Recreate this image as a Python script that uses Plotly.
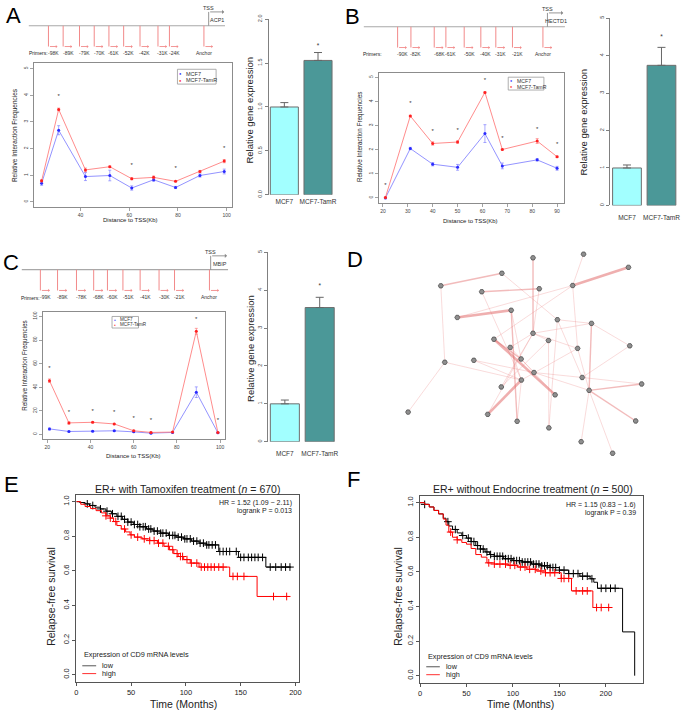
import plotly.graph_objects as go

W, H = 685, 712
FONT = "Arial, 'Liberation Sans', Helvetica, sans-serif"

# ======================= DATA =======================
# ---- Panel A (ACP1) ----
A_dist = [24, 31, 42, 52, 61, 70, 79, 89, 99]
A_mcf7 = [0.70, 2.69, 0.95, 0.99, 0.52, 0.83, 0.54, 0.99, 1.14]
A_mcf7_err = [0.08, 0.17, 0.15, 0.20, 0.08, 0.06, 0.04, 0.06, 0.09]
A_tamr = [0.79, 3.47, 1.20, 1.32, 0.87, 0.92, 0.77, 1.14, 1.53]
A_tamr_err = [0.04, 0.05, 0.07, 0.03, 0.04, 0.05, 0.02, 0.04, 0.06]
A_star_x = [31, 61, 79, 99]
A_star_y = [3.95, 1.35, 1.26, 2.00]
A_primer_lab = ["-98K", "-89K", "-79K", "-70K", "-61K", "-52K", "-42K", "-31K", "-24K", "Anchor"]
A_primer_pos = [-98, -89, -79, -70, -61, -52, -42, -31, -24, -2.9]
A_gene = "ACP1"
A_bar = [1.00, 1.53]
A_bar_err = [0.05, 0.09]
A_bar_star = 1.69

# ---- Panel B (HECTD1) ----
B_dist = [21, 31, 40, 50, 61, 68, 82, 90]
B_mcf7 = [0.00, 2.05, 1.40, 1.27, 2.67, 1.33, 1.58, 1.23]
B_mcf7_err = [0.02, 0.05, 0.07, 0.12, 0.37, 0.12, 0.05, 0.08]
B_tamr = [0.02, 3.40, 2.26, 2.32, 4.38, 2.01, 2.36, 1.71]
B_tamr_err = [0.02, 0.03, 0.07, 0.05, 0.03, 0.03, 0.10, 0.03]
B_star_x = [21, 31, 40, 50, 61, 68, 82, 90]
B_star_y = [0.52, 3.90, 2.74, 2.81, 4.89, 2.47, 2.85, 2.22]
B_primer_lab = ["-90K", "-82K", "-68K", "-61K", "-50K", "-40K", "-31K", "-21K", "Anchor"]
B_primer_pos = [-90, -82, -68, -61, -50, -40, -31, -21, -2.7]
B_gene = "HECTD1"
B_bar = [1.00, 3.74]
B_bar_err = [0.08, 0.48]
B_bar_star = 4.49

# ---- Panel C (MBIP) ----
C_dist = [21, 30, 41, 51, 60, 68, 78, 89, 99]
C_mcf7 = [4.7, 2.5, 2.8, 3.1, 2.2, 1.1, 1.7, 35.8, 1.4]
C_mcf7_err = [0.8, 0.4, 0.4, 0.4, 0.3, 0.3, 0.3, 4.5, 0.3]
C_tamr = [45.5, 9.8, 10.3, 8.9, 3.1, 1.7, 2.0, 87.4, 1.7]
C_tamr_err = [1.5, 1.0, 0.6, 0.5, 0.5, 0.4, 0.4, 2.5, 0.4]
C_star_x = [21, 30, 41, 51, 60, 68, 89, 99]
C_star_y = [55.9, 19.0, 19.8, 18.4, 13.4, 12.0, 97.2, 12.0]
C_primer_lab = ["-99K", "-89K", "-78K", "-68K", "-60K", "-51K", "-41K", "-30K", "-21K", "Anchor"]
C_primer_pos = [-99, -89, -78, -68, -60, -51, -41, -30, -21, -0.7]
C_gene = "MBIP"
C_bar = [1.00, 3.54]
C_bar_err = [0.10, 0.27]
C_bar_star = 4.09

bar_cats = ["MCF7", "MCF7-TamR"]
series_names = ["MCF7", "MCF7-TamR"]

# ---- Panel D (network layout) ----
D_node_x = [195.7, 246.7, 292.0, 164.3, 102.7, 144.0, 202.0, 235.7, 173.7, 119.3, 220.3, 254.7,
            195.7, 156.3, 211.3, 172.7, 240.7, 293.3, 183.7, 136.0, 106.7, 196.7, 245.3, 184.0,
            163.7, 305.3, 252.3, 218.0, 69.7, 150.0, 179.7, 299.3, 211.7, 244.3, 276.0]
D_node_y = [25.7, 22.0, 35.3, 41.3, 54.0, 60.0, 57.0, 53.7, 78.7, 86.0, 88.3, 92.0,
            102.0, 108.0, 109.3, 116.3, 117.3, 114.7, 128.0, 129.3, 131.3, 141.7, 146.7, 149.3,
            156.3, 153.3, 159.7, 164.3, 181.7, 184.0, 191.0, 190.7, 197.7, 211.7, 223.3]
D_edges_strong = [(9, 8), (2, 7), (13, 27), (23, 29)]
D_edges_mid = [(4, 3), (0, 12), (8, 30), (11, 26), (25, 26), (13, 18), (26, 31), (5, 6)]
D_edges_weak = [(4, 20), (20, 28), (1, 7), (7, 16), (7, 13), (7, 9), (8, 18), (11, 10), (11, 12),
                (11, 17), (17, 22), (26, 33), (26, 34), (19, 23), (19, 21), (23, 30), (12, 24),
                (12, 29), (14, 32), (14, 24), (16, 23), (10, 32), (10, 22), (3, 10), (5, 23),
                (15, 23), (15, 21), (21, 26), (21, 22), (22, 25), (20, 23), (12, 15), (12, 14),
                (12, 16), (18, 27), (6, 12), (16, 26)]

# ---- Panel E (Tamoxifen) ----
E_low_t = [0, 3, 8, 12, 17, 22, 27, 32, 37, 42, 47, 52, 58, 64, 70, 77, 84, 91, 98, 105, 112, 119, 130, 148, 173, 196]
E_low_s = [1.0, 0.995, 0.987, 0.978, 0.968, 0.958, 0.945, 0.930, 0.915, 0.898, 0.882, 0.868, 0.855,
           0.842, 0.830, 0.818, 0.805, 0.795, 0.785, 0.772, 0.760, 0.750, 0.712, 0.678, 0.622, 0.622]
E_low_cens = [10, 15, 22, 28, 33, 38, 41, 44, 47, 50, 53, 56, 58, 61, 63, 66, 68, 71, 74, 77, 79, 82,
              85, 88, 90, 93, 96, 99, 101, 104, 107, 110, 113, 116, 119, 121, 124, 127, 131, 134, 137,
              140, 146, 150, 153, 157, 160, 163, 166, 170, 177, 182, 187, 191, 195]
E_high_t = [0, 4, 8, 13, 18, 23, 27, 31, 34, 37, 41, 45, 49, 53, 60, 67, 74, 80, 85, 89, 93, 98, 104, 112, 140, 165, 194]
E_high_s = [1.0, 0.985, 0.972, 0.960, 0.948, 0.935, 0.918, 0.905, 0.885, 0.862, 0.842, 0.825, 0.808,
            0.795, 0.785, 0.775, 0.760, 0.742, 0.722, 0.700, 0.683, 0.665, 0.645, 0.622, 0.568, 0.452, 0.452]
E_high_cens = [27, 31, 36, 44, 50, 56, 62, 67, 71, 75, 79, 84, 88, 92, 95, 97, 101, 105, 110, 114, 117,
               120, 123, 126, 130, 134, 143, 147, 153, 180, 192]
E_title = "ER+ with Tamoxifen treatment (<i>n</i> = 670)"
E_hr = "HR = 1.52 (1.09 \u2212 2.11)"
E_p = "logrank P = 0.013"

# ---- Panel F (no endocrine) ----
F_low_t = [0, 5, 10, 15, 20, 25, 28, 31, 35, 40, 45, 50, 55, 60, 65, 70, 75, 80, 90, 100, 110, 120,
           130, 140, 150, 160, 172, 183, 187, 191, 218, 231]
F_low_s = [1.0, 0.99, 0.975, 0.955, 0.935, 0.91, 0.89, 0.865, 0.845, 0.825, 0.81, 0.795, 0.775, 0.752,
           0.732, 0.715, 0.700, 0.690, 0.676, 0.665, 0.657, 0.645, 0.635, 0.625, 0.610, 0.590, 0.575,
           0.560, 0.540, 0.505, 0.253, 0.0]
F_low_cens = [5, 30, 38, 46, 52, 55, 58, 62, 65, 68, 72, 76, 80, 83, 86, 89, 92, 95, 98, 101, 104, 107,
              110, 113, 116, 119, 122, 125, 128, 131, 134, 137, 140, 143, 146, 150, 155, 160, 165, 170,
              175, 180, 185, 195, 200, 205, 210]
F_high_t = [0, 5, 10, 15, 20, 25, 28, 31, 35, 40, 45, 50, 55, 60, 66, 72, 80, 95, 105, 115, 125, 135,
            152, 163, 186, 204]
F_high_s = [1.0, 0.99, 0.975, 0.955, 0.935, 0.905, 0.87, 0.83, 0.80, 0.785, 0.77, 0.76, 0.735, 0.70,
            0.685, 0.652, 0.645, 0.638, 0.628, 0.615, 0.605, 0.595, 0.562, 0.490, 0.394, 0.394]
F_high_cens = [33, 40, 74, 80, 86, 92, 97, 102, 108, 113, 118, 124, 130, 135, 140, 145, 152, 155, 160,
               168, 175, 180, 190, 195, 203]
F_title = "ER+ without Endocrine treatment (<i>n</i> = 500)"
F_hr = "HR = 1.15 (0.83 \u2212 1.6)"
F_p = "logrank P = 0.39"

km_legend_title = "Expression of CD9 mRNA levels"
km_groups = ["low", "high"]
surv_ticks = [0, 0.2, 0.4, 0.6, 0.8, 1.0]
time_ticks = [0, 50, 100, 150, 200]

# ======================= HELPERS =======================
fig = go.Figure()
layout = dict(width=W, height=H, autosize=False, margin=dict(l=0, r=0, t=0, b=0, pad=0),
              paper_bgcolor="white", plot_bgcolor="white", showlegend=False,
              font=dict(family=FONT, color="#222"))
annotations = []
shapes = []


def ids(n):
    return ("x" if n == 1 else f"x{n}", "y" if n == 1 else f"y{n}",
            "xaxis" if n == 1 else f"xaxis{n}", "yaxis" if n == 1 else f"yaxis{n}")


def xdom(a, b):
    return [a / W, b / W]


def ydom(top, bottom):
    return [1 - bottom / H, 1 - top / H]


def note(x, y, text, size, color="#222", xanchor="center", yanchor="middle", **kw):
    d = dict(x=x / W, y=1 - y / H, xref="paper", yref="paper", text=text, showarrow=False,
             font=dict(size=size, family=FONT, color=color), xanchor=xanchor, yanchor=yanchor)
    d.update(kw)
    annotations.append(d)


BLUE_LINE = "rgba(120,120,255,0.8)"
BLUE_PT = "#2a2aff"
RED_LINE = "rgba(255,120,120,0.85)"
RED_PT = "#ff2020"


def line_panel(n, xd, yd, xr, yr, xticks, yticks, dist, m, me, t, te, sx, sy):
    xa, ya, xk, yk = ids(n)
    common = dict(showline=True, mirror=True, linecolor="#8c8c8c", linewidth=1, ticks="outside",
                  ticklen=3, tickwidth=0.8, tickcolor="#8c8c8c", tickfont=dict(size=5, color="#444"),
                  showgrid=False, zeroline=False, fixedrange=True)
    layout[xk] = dict(domain=xdom(*xd), range=xr, anchor=ya, tickvals=xticks, **common)
    layout[yk] = dict(domain=ydom(*yd), range=yr, anchor=xa, tickvals=yticks, tickangle=-90, **common)
    fig.add_trace(go.Scatter(x=dist, y=m, xaxis=xa, yaxis=ya, mode="lines+markers", name=series_names[0],
                             line=dict(color=BLUE_LINE, width=1), marker=dict(color=BLUE_PT, size=3),
                             error_y=dict(type="data", array=me, color=BLUE_LINE, thickness=0.8, width=1.5)))
    fig.add_trace(go.Scatter(x=dist, y=t, xaxis=xa, yaxis=ya, mode="lines+markers", name=series_names[1],
                             line=dict(color=RED_LINE, width=1), marker=dict(color=RED_PT, size=3),
                             error_y=dict(type="data", array=te, color=RED_LINE, thickness=0.8, width=1.5)))
    fig.add_trace(go.Scatter(x=sx, y=sy, xaxis=xa, yaxis=ya, mode="text", text=["*"] * len(sx),
                             textfont=dict(size=6, color="#333"), cliponaxis=False))


def line_legend(box, rows, dot_x, text_x, size):
    x0, y0, x1, y1 = box
    shapes.append(dict(type="rect", xref="paper", yref="paper", x0=x0 / W, x1=x1 / W,
                       y0=1 - y1 / H, y1=1 - y0 / H, line=dict(color="#999", width=0.8)))
    for (yy, col, lab) in zip(rows, [BLUE_PT, RED_PT], series_names):
        note(dot_x, yy, "\u25cf", size - 1.5, color=col)
        note(text_x, yy, lab, size, color="#333", xanchor="left")


def bar_panel(n, xd, yd, xr, yr, yticks, yticktext, vals, errs, star, standoff):
    xa, ya, xk, yk = ids(n)
    layout[xk] = dict(domain=xdom(*xd), range=xr, anchor=ya, showline=False, ticks="",
                      tickvals=[0.7, 1.9], ticktext=bar_cats, tickfont=dict(size=6.5, color="#333"),
                      showgrid=False, zeroline=False, fixedrange=True, ticklabelstandoff=standoff)
    layout[yk] = dict(domain=ydom(*yd), range=yr, anchor=xa, showline=True, linecolor="#808080",
                      linewidth=1, ticks="outside", ticklen=3, tickcolor="#808080", tickvals=yticks,
                      ticktext=yticktext, tickangle=-90, tickfont=dict(size=5.5, color="#444"),
                      showgrid=False, zeroline=False, fixedrange=True)
    fig.add_trace(go.Bar(x=[0.7, 1.9], y=vals, width=[1, 1], xaxis=xa, yaxis=ya,
                         marker=dict(color=["#a2ffff", "#4b9898"], line=dict(color="#6e6e6e", width=1)),
                         error_y=dict(type="data", symmetric=False, array=errs, arrayminus=[0, 0],
                                      color="#666", thickness=1, width=4)))
    fig.add_trace(go.Scatter(x=[1.9], y=[star], xaxis=xa, yaxis=ya, mode="text", text=["*"],
                             textfont=dict(size=6.5, color="#333"), cliponaxis=False))


TSS_H, TSS_TXT, GENE_TXT, PRIMER_D, LABEL_Y = 1.0, 1.29, 0.43, -1.5, -1.96
PRIMER_COL = "#f28a8a"


def gene_panel(n, xd, main_y, xr, line_ext, pos, labs, gene):
    xa, ya, xk, yk = ids(n)
    layout[xk] = dict(domain=xdom(*xd), range=xr, anchor=ya, visible=False, fixedrange=True)
    layout[yk] = dict(domain=ydom(main_y - 21, main_y + 33.6), range=[-2.4, 1.5], anchor=xa,
                      visible=False, fixedrange=True)
    fig.add_trace(go.Scatter(x=line_ext, y=[0, 0], xaxis=xa, yaxis=ya, mode="lines",
                             line=dict(color="#a8a8a8", width=1.2), cliponaxis=False))
    vx, vy = [], []
    for p in pos:
        vx += [p, p, None]
        vy += [0, PRIMER_D, None]
    fig.add_trace(go.Scatter(x=vx, y=vy, xaxis=xa, yaxis=ya, mode="lines",
                             line=dict(color=PRIMER_COL, width=1), cliponaxis=False))
    for p, lab in zip(pos, labs):
        annotations.append(dict(x=p + 5.5, y=PRIMER_D, ax=p, ay=PRIMER_D, xref=xa, yref=ya,
                                axref=xa, ayref=ya, text="", showarrow=True, arrowhead=1,
                                arrowsize=0.6, arrowwidth=0.9, arrowcolor=PRIMER_COL, standoff=0))
        off = 0 if lab == "Anchor" else 3
        annotations.append(dict(x=p + off, y=LABEL_Y, xref=xa, yref=ya, text=lab, showarrow=False,
                                font=dict(size=5, family=FONT, color="#333")))
    # TSS arrow
    fig.add_trace(go.Scatter(x=[0, 0], y=[0, TSS_H], xaxis=xa, yaxis=ya, mode="lines",
                             line=dict(color="#8a8a8a", width=0.9), cliponaxis=False))
    annotations.append(dict(x=9.5, y=TSS_H, ax=0, ay=TSS_H, xref=xa, yref=ya, axref=xa, ayref=ya,
                            text="", showarrow=True, arrowhead=1, arrowsize=0.8, arrowwidth=0.9,
                            arrowcolor="#8a8a8a", standoff=0))
    annotations.append(dict(x=0, y=TSS_TXT, xref=xa, yref=ya, text="TSS", showarrow=False,
                            font=dict(size=5.5, family=FONT, color="#333")))
    annotations.append(dict(x=5.3, y=GENE_TXT, xref=xa, yref=ya, text=gene, showarrow=False,
                            font=dict(size=5.5, family=FONT, color="#333")))


def surv_at(times, surv, t):
    s = surv[0]
    for ti, si in zip(times, surv):
        if ti <= t:
            s = si
        else:
            break
    return s


def km_panel(n, xd, yd, xr, curves):
    xa, ya, xk, yk = ids(n)
    common = dict(showline=True, mirror=True, linecolor="#555", linewidth=1, ticks="outside",
                  ticklen=3, tickwidth=1, tickcolor="#555", tickfont=dict(size=7.5, color="#222"),
                  showgrid=False, zeroline=False, fixedrange=True)
    layout[xk] = dict(domain=xdom(*xd), range=xr, anchor=ya, tickvals=time_ticks,
                      ticklabelstandoff=0, **common)
    layout[yk] = dict(domain=ydom(*yd), range=[-0.04, 1.04], anchor=xa, tickvals=surv_ticks,
                      ticktext=[f"{v:.1f}" for v in surv_ticks], tickangle=-90, **common)
    for times, surv, cens, col in curves:
        fig.add_trace(go.Scatter(x=times, y=surv, xaxis=xa, yaxis=ya, mode="lines",
                                 line=dict(shape="hv", color=col, width=1)))
        cy = [surv_at(times, surv, c) for c in cens]
        fig.add_trace(go.Scatter(x=cens, y=cy, xaxis=xa, yaxis=ya, mode="markers",
                                 marker=dict(symbol="cross-thin", size=5.5, color=col,
                                             line=dict(color=col, width=1))))


def km_legend(x_text, y_title, y_low, y_high, line_x0, line_x1, item_x):
    note(x_text, y_title, km_legend_title, 7.3, xanchor="left")
    for yy, col, lab in zip([y_low, y_high], ["#555555", "#ff3030"], km_groups):
        shapes.append(dict(type="line", xref="paper", yref="paper", x0=line_x0 / W, x1=line_x1 / W,
                           y0=1 - yy / H, y1=1 - yy / H, line=dict(color=col, width=1)))
        note(item_x, yy, lab, 7.3, xanchor="left")


# ======================= PANELS =======================
# Line charts
line_panel(1, (32.6, 231.6), (59, 204.5), [21.0, 102.0], [-0.2, 5.2], [40, 60, 80, 100],
           [0, 1, 2, 3, 4, 5], A_dist, A_mcf7, A_mcf7_err, A_tamr, A_tamr_err, A_star_x, A_star_y)
line_panel(3, (379.9, 566.9), (68.4, 200), [18.24, 92.76], [-0.2, 5.2],
           [20, 30, 40, 50, 60, 70, 80, 90], [0, 1, 2, 3, 4, 5],
           B_dist, B_mcf7, B_mcf7_err, B_tamr, B_tamr_err, B_star_x, B_star_y)
line_panel(5, (41.1, 224.6), (310.2, 439.1), [17.88, 102.12], [-4, 104], [20, 40, 60, 80, 100],
           [0, 20, 40, 60, 80, 100], C_dist, C_mcf7, C_mcf7_err, C_tamr, C_tamr_err, C_star_x, C_star_y)

line_legend((177, 65, 216, 80), [69.3, 76.0], 180.5, 184, 5.5)
line_legend((510.7, 73, 546.7, 86), [76.8, 82.6], 514, 517.5, 5.2)
line_legend((111, 315, 137.7, 326.7), [318.3, 323.6], 114, 116.8, 4.6)

note(13, 131.7, "Relative Interaction Frequencies", 6.5, textangle=-90)
note(130, 217, "Distance to TSS(Kb)", 6)
note(361.7, 134, "Relative Interaction Frequencies", 6.3, textangle=-90)
note(473, 218, "Distance to TSS(Kb)", 6)
note(23, 365, "Relative Interaction Frequencies", 6.3, textangle=-90)
note(133, 456, "Distance to TSS(Kb)", 6)

# Bar charts
bar_panel(2, (269, 334), (14.3, 192), [0.14, 2.437], [0, 2], [0, 0.5, 1, 1.5, 2],
          ["0.0", "0.5", "1.0", "1.5", "2.0"], A_bar, A_bar_err, A_bar_star, 2)
bar_panel(4, (613.3, 683), (13.3, 202.7), [0.107, 2.51], [0, 5], [0, 1, 2, 3, 4, 5],
          ["0", "1", "2", "3", "4", "5"], B_bar, B_bar_err, B_bar_star, 7)
bar_panel(6, (268.3, 339), (250, 441.7), [0.118, 2.531], [0, 5], [0, 1, 2, 3, 4, 5],
          ["0", "1", "2", "3", "4", "5"], C_bar, C_bar_err, C_bar_star, 7)
note(250, 106, "Relative gene expression", 9.5, textangle=-90)
note(587, 118, "Relative gene expression", 9.5, textangle=-90)
note(250, 347, "Relative gene expression", 9.5, textangle=-90)

# Gene diagrams
gene_panel(10, (0, 240), 21, [-126.4, 19.1], [-110, 10], A_primer_pos, A_primer_lab, A_gene)
gene_panel(11, (340, 585), 22, [-125.2, 20.7], [-110.3, 10.5], B_primer_pos, B_primer_lab, B_gene)
gene_panel(12, (0, 240), 267.7, [-121.3, 17.0], [-109.8, 10.1], C_primer_pos, C_primer_lab, C_gene)
note(25, 48.5, "Primers:", 5, xanchor="left")
note(361.7, 50, "Primers:", 5, xanchor="left")
note(16.7, 296, "Primers:", 5, xanchor="left")

# Network (D)
xa, ya, xk, yk = ids(7)
layout[xk] = dict(domain=xdom(340, 685), range=[0, 345], anchor=ya, visible=False, fixedrange=True)
layout[yk] = dict(domain=ydom(230, 470), range=[240, 0], anchor=xa, visible=False, fixedrange=True)
for edges, wdt, col in [(D_edges_weak, 0.7, "rgba(235,140,140,0.45)"),
                        (D_edges_mid, 1.4, "rgba(230,120,120,0.5)"),
                        (D_edges_strong, 2.6, "rgba(225,110,110,0.55)")]:
    ex, ey = [], []
    for a, b in edges:
        ex += [D_node_x[a], D_node_x[b], None]
        ey += [D_node_y[a], D_node_y[b], None]
    fig.add_trace(go.Scatter(x=ex, y=ey, xaxis=xa, yaxis=ya, mode="lines",
                             line=dict(color=col, width=wdt), hoverinfo="skip"))
fig.add_trace(go.Scatter(x=D_node_x, y=D_node_y, xaxis=xa, yaxis=ya, mode="markers",
                         marker=dict(symbol="hexagon2", size=5, color="#8f8f8f",
                                     line=dict(color="#505050", width=0.8)), cliponaxis=False))

# Kaplan-Meier (E, F)
km_panel(8, (75, 300), (495.3, 684.3), [0, 203.6],
         [(E_low_t, E_low_s, E_low_cens, "#000000"), (E_high_t, E_high_s, E_high_cens, "#ff0000")])
km_panel(9, (421.7, 646.7), (496.3, 685.3), [0, 240],
         [(F_low_t, F_low_s, F_low_cens, "#000000"), (F_high_t, F_high_s, F_high_cens, "#ff0000")])
note(186.7, 489, E_title, 10.5)
note(536, 490, F_title, 10.5)
note(295, 504, E_hr, 7, xanchor="right")
note(295, 511.7, E_p, 7, xanchor="right")
note(641.7, 505.7, F_hr, 7, xanchor="right")
note(641.7, 513.3, F_p, 7, xanchor="right")
note(50, 598, "Relapse-free survival", 10.5, textangle=-90)
note(400, 598, "Relapse-free survival", 10.5, textangle=-90)
note(182.7, 706.5, "Time (Months)", 10.5)
note(523.3, 706.5, "Time (Months)", 10.5)
km_legend(81, 657.3, 668.3, 676.2, 81, 95, 99)
km_legend(427.7, 659, 669.3, 677.3, 428, 441.7, 446)

# Panel letters
for lx, ly, letter in [(11.5, 11, "A"), (354, 11.5, "B"), (9.5, 260, "C"), (356, 257.5, "D"),
                       (10, 484.5, "E"), (355, 479.5, "F")]:
    note(lx, ly, letter, 22, color="#000")

layout["annotations"] = annotations
layout["shapes"] = shapes
fig.update_layout(**layout)
fig.write_html("out.html", include_plotlyjs=True, config={"displayModeBar": False, "staticPlot": True},
               post_script="document.body.style.margin='0px';document.body.style.overflow='hidden';")
